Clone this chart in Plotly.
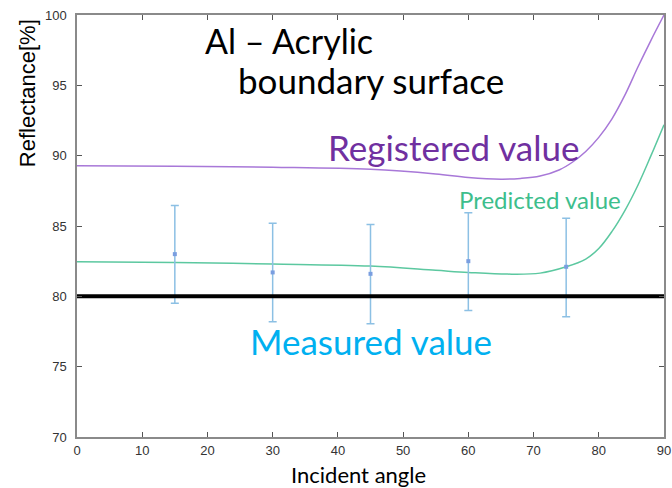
import plotly.graph_objects as go

# Incident angle (deg) and reflectance (%) readings
registered_angle = [0, 15, 30, 45, 55, 60, 65, 68, 71, 74, 76, 78, 80, 82, 84, 86, 88, 90]
registered_refl = [89.28, 89.25, 89.18, 89.03, 88.7, 88.45, 88.33, 88.38, 88.55, 89.0, 89.55,
                   90.3, 91.3, 92.6, 94.3, 96.3, 98.2, 100]

predicted_angle = [0, 15, 30, 45, 55, 60, 66, 71, 75, 78, 80, 82, 84, 86, 88, 90]
predicted_refl = [82.45, 82.4, 82.3, 82.15, 81.85, 81.7, 81.58, 81.65, 82.1, 82.65, 83.4,
                  84.6, 86.1, 87.9, 90.0, 92.2]

measured_angle = [15, 30, 45, 60, 75]
measured_refl = [83.0, 81.7, 81.6, 82.5, 82.1]
measured_upper = [86.45, 85.2, 85.1, 85.95, 85.55]
measured_lower = [79.5, 78.2, 78.05, 79.0, 78.55]

measured_level_angle = [0, 90]
measured_level = [80, 80]

x_ticks = [0, 10, 20, 30, 40, 50, 60, 70, 80, 90]
y_ticks = [70, 75, 80, 85, 90, 95, 100]

err_plus = [u - v for u, v in zip(measured_upper, measured_refl)]
err_minus = [v - l for v, l in zip(measured_refl, measured_lower)]

fig = go.Figure()

fig.add_trace(go.Scatter(
    x=registered_angle, y=registered_refl, mode="lines",
    line=dict(color="#a878d8", width=1.5, shape="spline", smoothing=1.0),
    hoverinfo="skip",
))
fig.add_trace(go.Scatter(
    x=predicted_angle, y=predicted_refl, mode="lines",
    line=dict(color="#5cc8a0", width=1.5, shape="spline", smoothing=1.0),
    hoverinfo="skip",
))
fig.add_trace(go.Scatter(
    x=measured_angle, y=measured_refl, mode="markers",
    marker=dict(color="#7a9ee0", size=4, symbol="square"),
    error_y=dict(type="data", symmetric=False, array=err_plus, arrayminus=err_minus,
                 color="#8cc0e4", thickness=1.5, width=4),
))
fig.add_trace(go.Scatter(
    x=measured_level_angle, y=measured_level, mode="lines",
    line=dict(color="#000000", width=4),
    hoverinfo="skip",
))

axis_common = dict(
    showline=True, linecolor="#8a8a8a", linewidth=1.5, mirror="ticks",
    ticks="inside", ticklen=5, tickcolor="#555555", tickwidth=1,
    showgrid=False, zeroline=False, automargin=False,
    tickfont=dict(family="Liberation Sans Narrow, Liberation Sans, Arial", size=13, color="#333333"),
)

fig.update_xaxes(range=[0, 90], tickvals=x_ticks, ticklabelstandoff=1, **axis_common)
fig.update_yaxes(range=[70, 100], tickvals=y_ticks, ticklabelstandoff=6, **axis_common)

text_font = "Lato, Carlito, Open Sans"
fig.update_layout(
    width=672, height=488,
    margin=dict(l=77, r=8, t=15, b=51),
    plot_bgcolor="white", paper_bgcolor="white",
    showlegend=False,
    annotations=[
        dict(text="Reflectance[%]", xref="paper", yref="paper", x=-0.085, y=0.815,
             xanchor="center", yanchor="middle", textangle=-90, showarrow=False,
             font=dict(family="Liberation Sans, Arial", size=22, color="#000000")),
        dict(text="Incident angle", xref="paper", yref="paper", x=0.479, y=-0.09,
             xanchor="center", yanchor="middle", showarrow=False,
             font=dict(family=text_font, size=22, color="#000000")),
    ],
)

# in-plot labels placed in data coordinates
labels = [
    ("Al – Acrylic", 19.3, 98.2, 34, "#000000"),
    ("boundary surface", 24.4, 95.4, 35, "#000000"),
    ("Registered value", 38.1, 90.6, 35, "#7030a0"),
    ("Predicted value", 58.3, 86.9, 24, "#3dbe8c"),
    ("Measured value", 26.2, 76.8, 35, "#00b0f0"),
]
for txt, ax, ay, sz, col in labels:
    fig.add_annotation(text=txt, x=ax, y=ay, xref="x", yref="y", xanchor="left",
                       yanchor="middle", showarrow=False,
                       font=dict(family=text_font, size=sz, color=col))

fig.write_html("out.html")
